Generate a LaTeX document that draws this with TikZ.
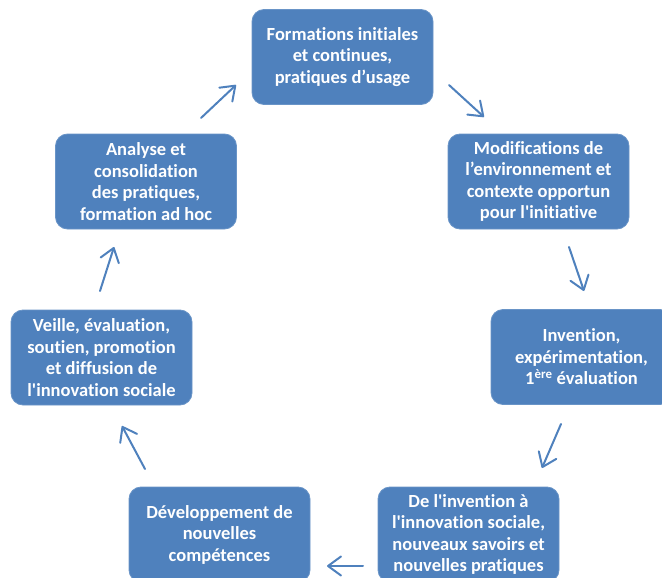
\documentclass[tikz,border=0pt]{standalone}
\usepackage{fontspec}
\setmainfont{Carlito}[Ligatures={NoCommon,NoContextual}]
\usetikzlibrary{arrows.meta}
\definecolor{boxblue}{HTML}{4F81BD}
\newcommand{\sq}{\textquotesingle}
\tikzset{
  stage/.style={rectangle, rounded corners=12pt, fill=boxblue, draw=boxblue!85!white, line width=0.8pt,
    minimum width=181pt, minimum height=95pt, inner sep=2pt, text=white, align=center,
    font=\bfseries\fontsize{18.5}{21.5}\selectfont},
  flow/.style={draw=boxblue, line width=2pt, line cap=round,
    -{Straight Barb[length=13pt,width=19pt,line width=2pt,round]}}
}
\begin{document}
\begin{tikzpicture}[x=1pt,y=-1pt]
  \useasboundingbox (0,0) rectangle (662,578);
  \clip (0,0) rectangle (662,578);

  % cycle stages
  \node[stage] (form) at (342.5,57) {Formations initiales\\et continues,\\pratiques d’usage};
  \node[stage] (modif) at (538.5,181.5) {Modifications de\\l’environnement et\\contexte opportun\\pour l\sq initiative};
  \node[stage] (inv) at (581.5,357) {Invention,\\expérimentation,\\1\textsuperscript{ère} évaluation};
  \node[stage] (innov) at (468.5,534.5) {De l\sq invention à\\l\sq innovation sociale,\\nouveaux savoirs et\\nouvelles pratiques};
  \node[stage] (dev) at (219.5,534.5) {Développement de\\nouvelles\\compétences};
  \node[stage] (veille) at (101.5,357.5) {Veille, évaluation,\\soutien, promotion\\et diffusion de\\l\sq innovation sociale};
  \node[stage] (anal) at (146,181.5) {Analyse et\\consolidation\\des pratiques,\\formation ad hoc};

  % arrow end points between the stages
  \coordinate (a1s) at (449,85);  \coordinate (a1e) at (484,117);
  \coordinate (a2s) at (569,247); \coordinate (a2e) at (584,291);
  \coordinate (a3s) at (561,424); \coordinate (a3e) at (542,468);
  \coordinate (a4s) at (363,566); \coordinate (a4e) at (327,566);
  \coordinate (a5s) at (145,469); \coordinate (a5e) at (122,426);
  \coordinate (a6s) at (100,291); \coordinate (a6e) at (114,247);
  \coordinate (a7s) at (201,118); \coordinate (a7e) at (236,85);

  \draw[flow] (a1s) -- (a1e);
  \draw[flow] (a2s) -- (a2e);
  \draw[flow] (a3s) -- (a3e);
  \draw[flow] (a4s) -- (a4e);
  \draw[flow] (a5s) -- (a5e);
  \draw[flow] (a6s) -- (a6e);
  \draw[flow] (a7s) -- (a7e);
\end{tikzpicture}
\end{document}
